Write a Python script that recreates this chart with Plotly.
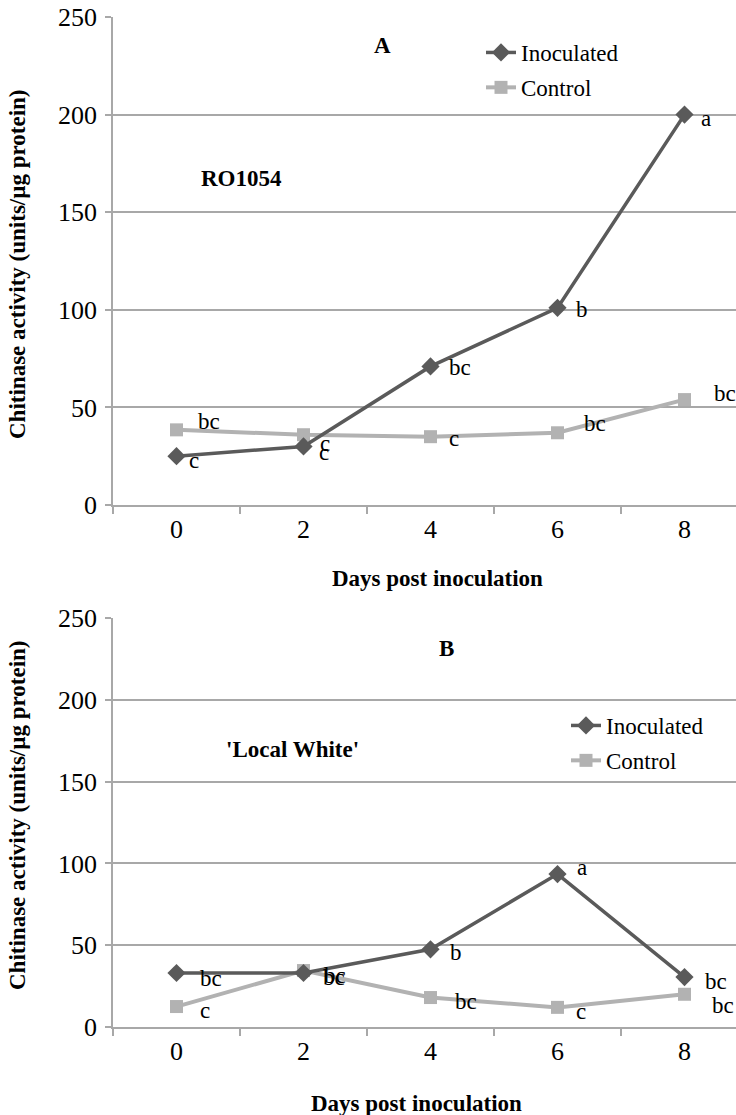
import plotly.graph_objects as go

# ---------------- data ----------------
days = [0, 2, 4, 6, 8]
day_labels = ["0", "2", "4", "6", "8"]

inoc_A = [25, 30, 71, 101, 200]
ctrl_A = [38.5, 36, 35, 37, 54]
inoc_A_letters = ["c", "c", "bc", "b", "a"]
ctrl_A_letters = ["bc", "c", "c", "bc", "bc"]

inoc_B = [33, 33, 47.5, 93.5, 30.5]
ctrl_B = [12.5, 34.5, 18, 12, 20]
inoc_B_letters = ["bc", "bc", "b", "a", "bc"]
ctrl_B_letters = ["c", "bc", "bc", "c", "bc"]

y_ticks = [0, 50, 100, 150, 200, 250]
series_names = ["Inoculated", "Control"]

# ---------------- layout helpers ----------------
W, H = 736, 1115
L, R, T, B = 113, 0, 17, 88
PW, PH = W - L - R, H - T - B


def px_x(px):
    return (px - L) / PW


def px_y(py):
    return 1 - (py - T) / PH


FONT = "Liberation Serif, Times New Roman, Times, serif"
DARK = "#5a5a5a"
LIGHT = "#b2b2b2"
GRID = "#a8a8a8"

fig = go.Figure()

panels = [
    ("x", "y", inoc_A, ctrl_A, "legend"),
    ("x2", "y2", inoc_B, ctrl_B, "legend2"),
]
for xa, ya, inoc, ctrl, lg in panels:
    fig.add_trace(go.Scatter(
        x=days, y=ctrl, name=series_names[1], xaxis=xa, yaxis=ya,
        mode="lines+markers", legend=lg, legendgroup="c" + xa, legendrank=2,
        line=dict(color=LIGHT, width=4),
        marker=dict(symbol="square", size=13, color=LIGHT),
    ))
    fig.add_trace(go.Scatter(
        x=days, y=inoc, name=series_names[0], xaxis=xa, yaxis=ya,
        mode="lines+markers", legend=lg, legendgroup="i" + xa, legendrank=1,
        line=dict(color=DARK, width=3.5),
        marker=dict(symbol="diamond", size=14, color=DARK),
    ))

# letter annotations (pixel offsets from the point)
off_inoc_A = [(17, 4), (20, 6), (29, 1), (24, 2), (21, 4)]
off_ctrl_A = [(32, -8), (21, 9), (23, 2), (37, -9), (40, -6)]
off_inoc_B = [(34, 5), (30, 4), (25, 3), (24, -7), (31, 4)]
off_ctrl_B = [(28, 4), (31, 5), (35, 4), (23, 4), (38, 11)]

annotations = []
for xa, ya, vals, letters, offs in [
    ("x", "y", inoc_A, inoc_A_letters, off_inoc_A),
    ("x", "y", ctrl_A, ctrl_A_letters, off_ctrl_A),
    ("x2", "y2", inoc_B, inoc_B_letters, off_inoc_B),
    ("x2", "y2", ctrl_B, ctrl_B_letters, off_ctrl_B),
]:
    for d, v, t, (dx, dy) in zip(days, vals, letters, offs):
        annotations.append(dict(
            x=d, y=v, xref=xa, yref=ya, text=t, showarrow=False,
            xshift=dx, yshift=-dy, font=dict(family=FONT, size=23, color="black"),
        ))


def txt(px, py, s, size=21, bold=True, angle=0):
    return dict(
        x=px_x(px), y=px_y(py), xref="paper", yref="paper",
        text=f"<b>{s}</b>" if bold else s, showarrow=False, textangle=angle,
        xanchor="center", yanchor="middle",
        font=dict(family=FONT, size=size, color="black"),
    )


annotations += [
    txt(382, 45, "A", 23),
    txt(241, 178, "RO1054", 23),
    txt(446, 648, "B", 23),
    txt(292, 749, "'Local White'", 23),
    txt(437, 578, "Days post inoculation", 23),
    txt(416, 1103, "Days post inoculation", 23),
    txt(17, 264, "Chitinase activity (units/µg protein)", 23, angle=-90),
    txt(17, 815, "Chitinase activity (units/µg protein)", 23, angle=-90),
]

x_right = -1 + (W - L) / 63.5
xcommon = dict(
    range=[-1, x_right], tickvals=days, ticktext=day_labels, ticks="",
    showgrid=False, zeroline=False, showline=True, linecolor=GRID, linewidth=1.5,
    tickfont=dict(family=FONT, size=26, color="black"),
    minor=dict(tick0=-1, dtick=2, ticks="outside", ticklen=7, tickcolor=GRID,
               tickwidth=1.5, showgrid=False),
    fixedrange=True,
)
ycommon = dict(
    range=[0, 250], tickvals=y_ticks, ticks="outside", ticklen=6, tickcolor=GRID,
    tickwidth=1.5, showgrid=True, gridcolor=GRID, gridwidth=1.5, zeroline=False,
    showline=True, linecolor=GRID, linewidth=1.5, ticklabelstandoff=3,
    tickfont=dict(family=FONT, size=26, color="black"), fixedrange=True,
)

yA_bottom = px_y(505)
yB_top = px_y(618)

legend_common = dict(
    font=dict(family=FONT, size=23, color="black"), bgcolor="rgba(0,0,0,0)",
    traceorder="grouped", tracegroupgap=2, itemwidth=30,
    xanchor="left", yanchor="top",
)

fig.update_layout(
    width=W, height=H,
    margin=dict(l=L, r=R, t=T, b=B),
    paper_bgcolor="white", plot_bgcolor="white",
    font=dict(family=FONT, color="black"),
    showlegend=True,
    xaxis=dict(domain=[0, 1], anchor="y", **xcommon),
    yaxis=dict(domain=[yA_bottom, 1], anchor="x", **ycommon),
    xaxis2=dict(domain=[0, 1], anchor="y2", **xcommon),
    yaxis2=dict(domain=[0, yB_top], anchor="x2", **ycommon),
    legend=dict(x=px_x(481), y=px_y(31), **legend_common),
    legend2=dict(x=px_x(566), y=px_y(704), **legend_common),
    annotations=annotations,
)

fig.write_html("out.html")
